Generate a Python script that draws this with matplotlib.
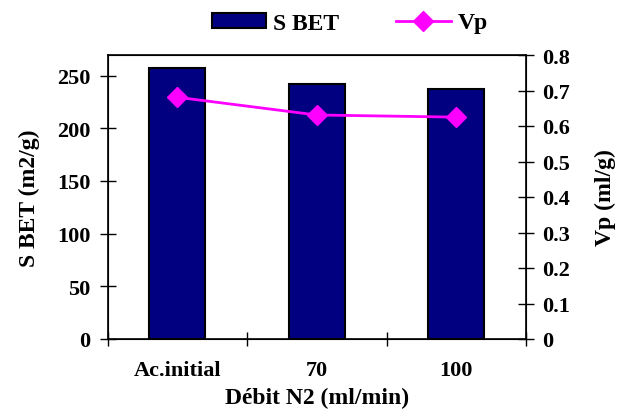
import matplotlib
matplotlib.use("Agg")
import matplotlib.pyplot as plt
from matplotlib.lines import Line2D
from matplotlib.patches import Patch

categories = ["Ac.initial", "70", "100"]
s_bet = [257, 242, 237]
vp = [0.681, 0.631, 0.625]

plt.rcParams['font.family'] = ['Liberation Serif', 'DejaVu Serif']
plt.rcParams['font.weight'] = 'bold'
FS = 16
LFS = 17

fig = plt.figure(figsize=(6.19, 4.10), dpi=100)
ax = fig.add_axes([107.5/619, 1-340/410, (526-107.5)/619, (340-56)/410])
x = list(range(len(categories)))
ax.bar(x, s_bet, width=0.4, color='#000080', edgecolor='black', linewidth=1.5, zorder=2)
ax.set_xlim(-0.5, 2.5)
ax.set_ylim(0, 269.5)
ax.set_yticks([0, 50, 100, 150, 200, 250])
ax.set_xticks([-0.5, 0.5, 1.5, 2.5])
ax.set_xticklabels([])
ax.set_xticks(x, minor=True)
ax.set_xticklabels(categories, minor=True)
ax.tick_params(axis='x', which='minor', length=0, pad=15, labelsize=FS)
ax.tick_params(axis='x', which='major', direction='inout', length=10, width=1)
ax.tick_params(axis='y', direction='inout', length=11, width=1, labelsize=FS, pad=7)
for s in ax.spines.values():
    s.set_linewidth(1.2)
ax.set_ylabel("S BET (m2/g)", fontsize=LFS, fontweight='bold', labelpad=12)
ax.set_xlabel("Débit N2 (ml/min)", fontsize=LFS, fontweight='bold', labelpad=5)

ax2 = ax.twinx()
ax2.plot(x, vp, color='#FF00FF', linewidth=2, marker='D', markersize=10, zorder=3)
ax2.set_ylim(0, 0.8)
ax2.set_yticks([0, 0.1, 0.2, 0.3, 0.4, 0.5, 0.6, 0.7, 0.8])
ax2.set_yticklabels(["0", "0.1", "0.2", "0.3", "0.4", "0.5", "0.6", "0.7", "0.8"])
ax2.tick_params(axis='y', direction='inout', length=11, width=1, labelsize=FS, pad=6)
ax2.set_ylabel("Vp (ml/g)", fontsize=LFS, fontweight='bold', labelpad=18)

handles = [Patch(facecolor='#000080', edgecolor='black', linewidth=1.5),
           Line2D([0], [0], color='#FF00FF', linewidth=2, marker='D', markersize=10)]
fig.legend(handles, ["S BET", "Vp"], loc='center', bbox_to_anchor=(350/619, 1-24/410),
           ncol=2, frameon=False, fontsize=LFS, handlelength=2.3, handleheight=0.6,
           columnspacing=2.4, handletextpad=0.3)

fig.savefig("out.png", dpi=100)
